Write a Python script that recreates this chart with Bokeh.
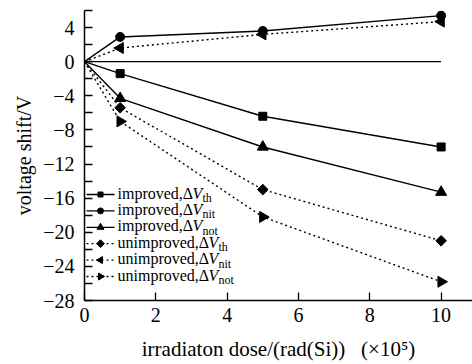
import math
from bokeh.plotting import figure
from bokeh.models import FixedTicker, CustomJSTickFormatter, Range1d
from bokeh.core.properties import value
from bokeh.embed import file_html
from bokeh.resources import INLINE

# ---------------- data ----------------
dose = [0, 1, 5, 10]
imp_th = [0, -1.4, -6.4, -10.0]
imp_nit = [0, 2.9, 3.6, 5.4]
imp_not = [0, -4.3, -10.0, -15.3]
unimp_th = [0, -5.4, -15.0, -21.0]
unimp_nit = [0, 1.6, 3.2, 4.7]
unimp_not = [0, -7.0, -18.2, -25.8]

legend_prefix = ["improved,Δ", "improved,Δ", "improved,Δ",
                 "unimproved,Δ", "unimproved,Δ", "unimproved,Δ"]
legend_sub = ["th", "nit", "not", "th", "nit", "not"]

x_ticks = [0, 2, 4, 6, 8, 10]
y_major = [-28, -24, -20, -16, -12, -8, -4, 0, 4]
y_minor = [-26, -22, -18, -14, -10, -6, -2, 2, 6]

x_label = "irradiaton dose/(rad(Si))\u00a0\u00a0\u00a0(×10⁵)"
y_label = "voltage shift/V"

# ---------------- layout ----------------
W, H = 472, 364
FL, FR, FT, FB = 84, 472, 10, 300
X0, X1, Y0, Y1 = 0, 10.88, -28, 6
FONT = "Liberation Serif"

def px2x(px):
    return X0 + (px - FL) * (X1 - X0) / (FR - FL)

def px2y(py):
    return Y1 - (py - FT) * (Y1 - Y0) / (FB - FT)

p = figure(width=W, height=H, output_backend="svg", toolbar_location=None,
           x_range=Range1d(X0, X1), y_range=Range1d(Y0, Y1),
           min_border_left=FL, min_border_right=W - FR,
           min_border_top=FT, min_border_bottom=H - FB)
p.outline_line_color = None
p.grid.visible = False
p.background_fill_color = "white"
p.border_fill_color = "white"

for ax in (p.xaxis[0], p.yaxis[0]):
    ax.axis_line_color = "black"
    ax.axis_line_width = 1.5
    ax.major_tick_in = 8
    ax.major_tick_out = 0
    ax.minor_tick_in = 8
    ax.minor_tick_out = 0
    ax.major_tick_line_width = 1.3
    ax.minor_tick_line_width = 1.3
    ax.major_label_text_font = FONT
    ax.major_label_text_font_size = "20px"
    ax.major_label_text_color = "black"
    ax.axis_label_text_font = FONT
    ax.axis_label_text_font_style = "normal"
    ax.axis_label_text_color = "black"

p.xaxis.axis_label_text_font_size = "21px"
p.yaxis.axis_label_text_font_size = "20px"
p.xaxis.ticker = FixedTicker(ticks=x_ticks, minor_ticks=[])
p.yaxis.ticker = FixedTicker(ticks=y_major, minor_ticks=y_minor)
p.yaxis.formatter = CustomJSTickFormatter(
    code="return tick < 0 ? '\u2212' + Math.abs(tick) : String(tick);")
p.xaxis.major_label_standoff = 7
p.yaxis.major_label_standoff = 10
p.xaxis.axis_label = x_label
p.yaxis.axis_label = y_label
p.xaxis.axis_label_standoff = 12
p.yaxis.axis_label_standoff = 5

# zero reference line
p.segment(x0=dose[0], x1=dose[-1], y0=0, y1=0, line_color="black", line_width=1.3)

series = [
    (imp_th, "square", 0.0, 8, "solid"),
    (imp_nit, "circle", 0.0, 9, "solid"),
    (imp_not, "triangle", 0.0, 11, "solid"),
    (unimp_th, "square", math.pi / 4, 7.5, "2 3"),
    (unimp_nit, "triangle", math.pi / 2, 11, "2 3"),
    (unimp_not, "triangle", -math.pi / 2, 11, "2 3"),
]

for ys, mk, ang, sz, dash in series:
    p.line(dose, ys, line_color="black", line_width=1.4, line_dash=dash)
    p.scatter(dose[1:], ys[1:], marker=mk, angle=ang, size=sz,
              fill_color="black", line_color="black")

# ---------------- manual legend ----------------
TW = {'a': 444, 'b': 500, 'c': 444, 'd': 500, 'e': 444, 'f': 333, 'g': 500,
      'h': 500, 'i': 278, 'j': 278, 'k': 500, 'l': 278, 'm': 778, 'n': 500,
      'o': 500, 'p': 500, 'q': 500, 'r': 333, 's': 389, 't': 278, 'u': 500,
      'v': 500, 'w': 722, 'x': 500, 'y': 500, 'z': 444, ',': 250, 'Δ': 612}

def text_w(s, fs):
    return sum(TW.get(c, 500) for c in s) / 1000.0 * fs

LFS = 16
row0, dy = 194, 16.4
seg_l, seg_r, mk_x, txt_x = 86, 114, 100, 117
legend_sizes = [5, 6, 7, 5.5, 7, 7]

for i, (ys, mk, ang, sz, dash) in enumerate(series):
    ry = row0 + i * dy
    p.line([px2x(seg_l), px2x(seg_r)], [px2y(ry), px2y(ry)],
           line_color="black", line_width=1.3, line_dash=dash)
    p.scatter([px2x(mk_x)], [px2y(ry)], marker=mk, angle=ang, size=legend_sizes[i],
              fill_color="black", line_color="black")
    pre = legend_prefix[i]
    wpre = text_w(pre, LFS)
    p.text([px2x(txt_x)], [px2y(ry - 1.5)], text=[pre], text_font=value(FONT),
           text_font_size="16px", text_baseline="middle", text_align="left",
           text_color="black")
    p.text([px2x(txt_x + wpre)], [px2y(ry - 1.5)], text=["V"], text_font=value(FONT),
           text_font_size="16px", text_font_style="italic", text_baseline="middle",
           text_align="left", text_color="black")
    p.text([px2x(txt_x + wpre + 0.62 * LFS)], [px2y(ry + 3.5)], text=[legend_sub[i]],
           text_font=value(FONT), text_font_size="12px", text_baseline="middle",
           text_align="left", text_color="black")

open("out.html", "w").write(file_html(p, INLINE))
